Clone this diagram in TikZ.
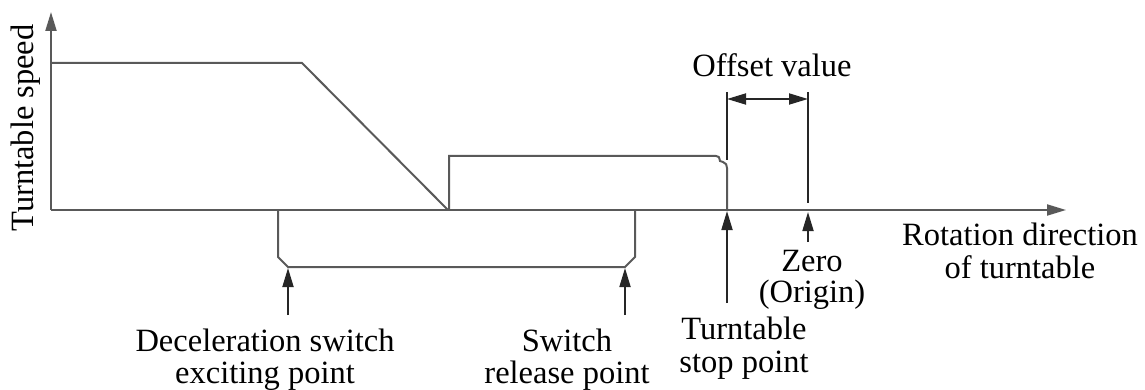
\documentclass[tikz,border=0pt]{standalone}
\usepackage{fontspec}
\setmainfont{Liberation Serif}
\usetikzlibrary{arrows.meta}
\begin{document}
\begin{tikzpicture}[x=1pt,y=-1pt,
  line/.style={draw=black!65,line width=2pt},
  dimline/.style={draw=black!85,line width=1.8pt},
  tip/.tip={Triangle[length=19pt,width=11pt]},
  arr/.style={dimline,-tip},
  darr/.style={dimline,tip-tip},
  lbl/.style={anchor=base,inner sep=0pt,font=\fontsize{32.5}{33}\selectfont}]
\useasboundingbox (0,0) rectangle (1145,390);
% coordinates
\coordinate (O) at (51,210);
\coordinate (ytop) at (51,12);
\coordinate (xend) at (1066,210);
\coordinate (h1) at (51,63);
\coordinate (h2) at (302,63);
\coordinate (low) at (448,210);
\coordinate (s0) at (449,210);
\coordinate (s1) at (449,156);
\coordinate (s2) at (716,156);
\coordinate (stopax) at (727,210);
\coordinate (stoptop) at (727,92);
\coordinate (stopmid) at (727,160);
\coordinate (zerotop) at (808,92);
\coordinate (zerobot) at (808,203);
\coordinate (offL) at (727,99);
\coordinate (offR) at (808,99);
\coordinate (stopfoot) at (727,303);
\coordinate (stophead) at (727,211);
\coordinate (zerofoot) at (808,242);
\coordinate (zerohead) at (808,212);
\coordinate (b0) at (278,210);
\coordinate (b1) at (278,257);
\coordinate (b2) at (288,267);
\coordinate (b3) at (625,267);
\coordinate (b4) at (635,257);
\coordinate (b5) at (635,210);
\coordinate (decfoot) at (288,315);
\coordinate (dechead) at (288,268);
\coordinate (relfoot) at (625,315);
\coordinate (relhead) at (625,268);
% axes
\draw[line,-tip] (O) -- (ytop);
\draw[line,-tip] (O) -- (xend);
% speed profile
\draw[line] (h1) -- (h2) -- (low);
\draw[line] (s0) -- (s1) -- (s2)
  .. controls (719,156) and (719,157) .. (720,161)
  -- (723,162) .. controls (726,163) and (727,165) .. (727,168) -- (stopax);
% extension lines
\draw[dimline] (stoptop) -- (stopmid);
\draw[dimline] (zerotop) -- (zerobot);
\draw[darr] (offL) -- (offR);
% bracket
\draw[line] (b0) -- (b1) -- (b2) -- (b3) -- (b4) -- (b5);
% pointer arrows
\draw[arr] (stopfoot) -- (stophead);
\draw[arr] (zerofoot) -- (zerohead);
\draw[arr] (decfoot) -- (dechead);
\draw[arr] (relfoot) -- (relhead);
% labels
\node[lbl,rotate=90] (ylab) at (33,128) {Turntable speed};
\node[lbl] (off) at (772,77) {Offset value};
\node[lbl] (rot1) at (1020,245) {Rotation direction};
\node[lbl] (rot2) at (1020,278) {of turntable};
\node[lbl] (zero1) at (812,271) {Zero};
\node[lbl] (zero2) at (812,302) {(Origin)};
\node[lbl] (stop1) at (744,339) {Turntable};
\node[lbl] (stop2) at (744,372) {stop point};
\node[lbl] (dec1) at (265,351) {Deceleration switch};
\node[lbl] (dec2) at (265,383) {exciting point};
\node[lbl] (rel1) at (567,351) {Switch};
\node[lbl] (rel2) at (567,383) {release point};
\end{tikzpicture}
\end{document}
